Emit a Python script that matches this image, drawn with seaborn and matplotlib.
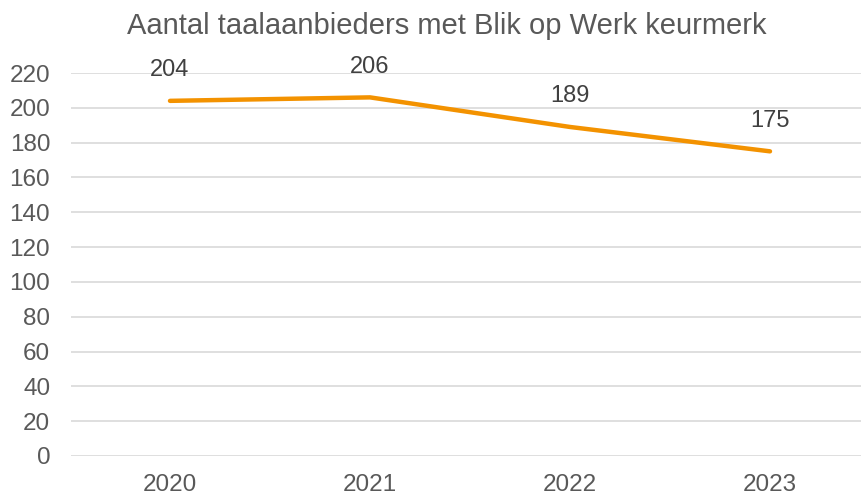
import matplotlib
matplotlib.use("Agg")
import matplotlib.pyplot as plt
import seaborn as sns
import pandas as pd

jaren = ["2020", "2021", "2022", "2023"]
aantallen = [204, 206, 189, 175]
y_ticks = list(range(0, 221, 20))

sns.set_theme(style="white")
plt.rcParams["font.family"] = ["Liberation Sans", "DejaVu Sans"]

df = pd.DataFrame({"jaar": jaren, "aantal": aantallen})

fig = plt.figure(figsize=(8.62, 4.97), dpi=100)
ax = fig.add_axes([71 / 862, 41 / 497, 791 / 862, 383 / 497])

sns.lineplot(data=df, x="jaar", y="aantal", ax=ax, color="#F39200",
             linewidth=3.2, sort=False)
ax.lines[0].set_solid_capstyle("round")

for i, v in enumerate(aantallen):
    ax.annotate(str(v), (i, v), xytext=(0, 22), textcoords="offset points",
                ha="center", va="center", fontsize=17, color="#404040")

ax.set_ylim(0, 220)
ax.set_xlim(-0.495, 3.46)
ax.set_yticks(y_ticks)
ax.yaxis.grid(True, color="#D9D9D9", linewidth=1.2)
ax.set_axisbelow(True)
for s in ax.spines.values():
    s.set_visible(False)
ax.tick_params(axis="both", length=0, labelsize=17.5, colors="#595959")
ax.tick_params(axis="x", pad=13)
ax.tick_params(axis="y", pad=15)
ax.set_xlabel("")
ax.set_ylabel("")
fig.text(0.518, 0.948, "Aantal taalaanbieders met Blik op Werk keurmerk",
         ha="center", va="center", fontsize=21, color="#595959")

fig.savefig("out.png", dpi=100)
